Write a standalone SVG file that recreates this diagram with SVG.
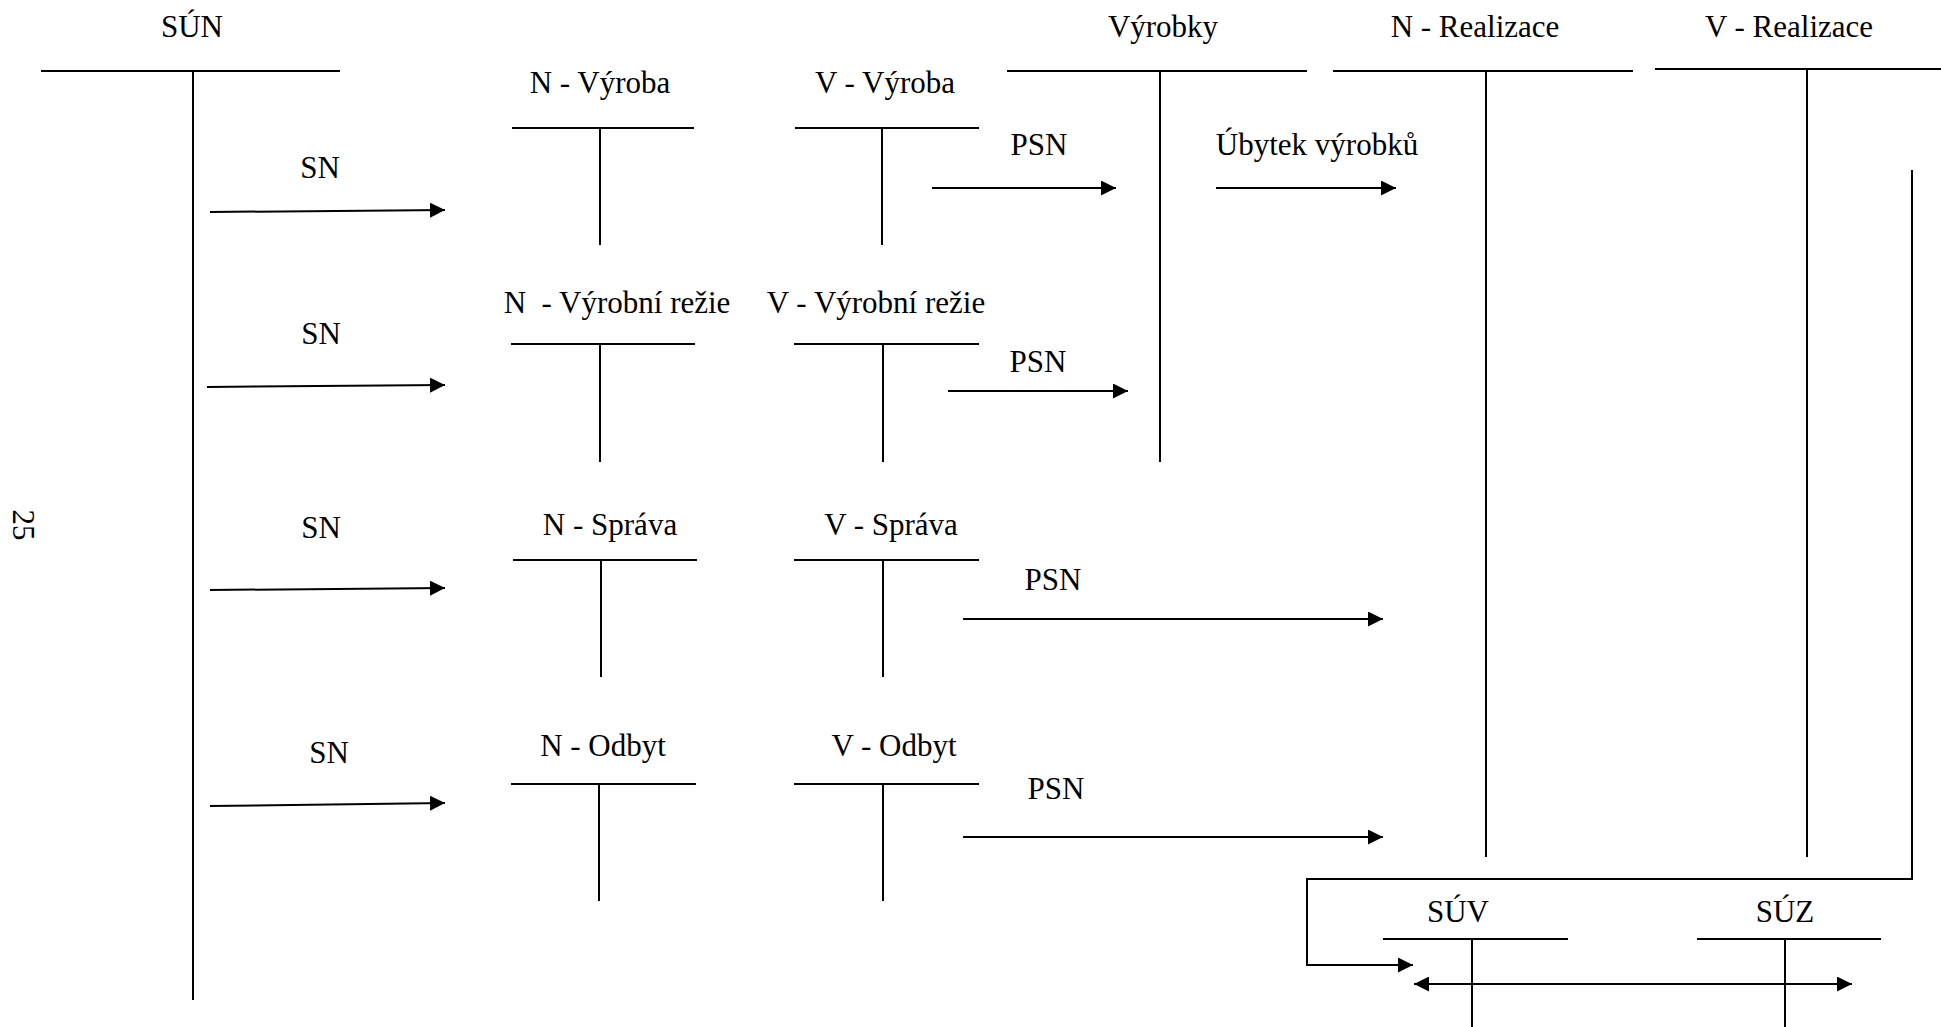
<svg xmlns="http://www.w3.org/2000/svg" width="1941" height="1027" viewBox="0 0 1941 1027">
<style>
text{font-size:31px;fill:#000;text-anchor:middle}
.t{stroke:#000;stroke-width:2;fill:none}
.c{stroke:#000;stroke-width:2;fill:none}
</style>
<defs>
<marker id="ah" markerWidth="15" markerHeight="15" refX="15" refY="7.5" orient="auto-start-reverse" markerUnits="userSpaceOnUse">
<path d="M0,0 L15,7.5 L0,15 z" fill="#000"/>
</marker>
</defs>
<rect width="1941" height="1027" fill="#fff"/>
<g font-family="'Liberation Serif', 'Times New Roman', serif">
<text transform="translate(13,525) rotate(90)">25</text>

<g id="sun"><text x="192" y="37">SÚN</text><path class="t" d="M41,71 H340 M193,71 V1000"/></g>
<g id="vyrobky"><text x="1163" y="37">Výrobky</text><path class="t" d="M1007,71 H1307 M1160,71 V462"/></g>
<g id="n-realizace"><text x="1475" y="37">N - Realizace</text><path class="t" d="M1333,71 H1633 M1486,71 V857"/></g>
<g id="v-realizace"><text x="1789" y="37">V - Realizace</text><path class="t" d="M1655,69 H1941 M1807,69 V857"/></g>

<g id="n-vyroba"><text x="600" y="93">N - Výroba</text><path class="t" d="M512,128 H694 M600,128 V245"/></g>
<g id="v-vyroba"><text x="885" y="93">V - Výroba</text><path class="t" d="M795,128 H979 M882,128 V245"/></g>

<g id="n-rezie"><text x="617" y="313" xml:space="preserve">N  - Výrobní režie</text><path class="t" d="M511,344 H695 M600,344 V462"/></g>
<g id="v-rezie"><text x="876" y="313">V - Výrobní režie</text><path class="t" d="M794,344 H979 M883,344 V462"/></g>

<g id="n-sprava"><text x="610" y="535">N - Správa</text><path class="t" d="M513,560 H697 M601,560 V677"/></g>
<g id="v-sprava"><text x="891" y="535">V - Správa</text><path class="t" d="M794,560 H979 M883,560 V677"/></g>

<g id="n-odbyt"><text x="603" y="756">N - Odbyt</text><path class="t" d="M511,784 H696 M599,784 V901"/></g>
<g id="v-odbyt"><text x="894" y="756">V - Odbyt</text><path class="t" d="M794,784 H979 M883,784 V901"/></g>

<g id="suv"><text x="1458" y="922">SÚV</text><path class="t" d="M1383,939 H1568 M1472,939 V1027"/></g>
<g id="suz"><text x="1785" y="922">SÚZ</text><path class="t" d="M1697,939 H1881 M1785,939 V1027"/></g>

<g id="connectors">
<path class="c" marker-end="url(#ah)" d="M210,212 L445,210"/>
<text x="320" y="178">SN</text>
<path class="c" marker-end="url(#ah)" d="M932,188 H1116"/>
<text x="1039" y="155">PSN</text>
<path class="c" marker-end="url(#ah)" d="M1216,188 H1396"/>
<text x="1317" y="155">Úbytek výrobků</text>

<path class="c" marker-end="url(#ah)" d="M207,387 L445,385"/>
<text x="321" y="344">SN</text>
<path class="c" marker-end="url(#ah)" d="M948,391 H1128"/>
<text x="1038" y="372">PSN</text>

<path class="c" marker-end="url(#ah)" d="M210,590 L445,588"/>
<text x="321" y="538">SN</text>
<path class="c" marker-end="url(#ah)" d="M963,619 H1383"/>
<text x="1053" y="590">PSN</text>

<path class="c" marker-end="url(#ah)" d="M210,806 L445,803"/>
<text x="329" y="763">SN</text>
<path class="c" marker-end="url(#ah)" d="M963,837 H1383"/>
<text x="1056" y="799">PSN</text>

<path class="c" marker-end="url(#ah)" d="M1912,170 V879 H1307 V965 H1413"/>
<path class="c" marker-start="url(#ah)" marker-end="url(#ah)" d="M1414,984 H1852"/>
</g>
</g>
</svg>
